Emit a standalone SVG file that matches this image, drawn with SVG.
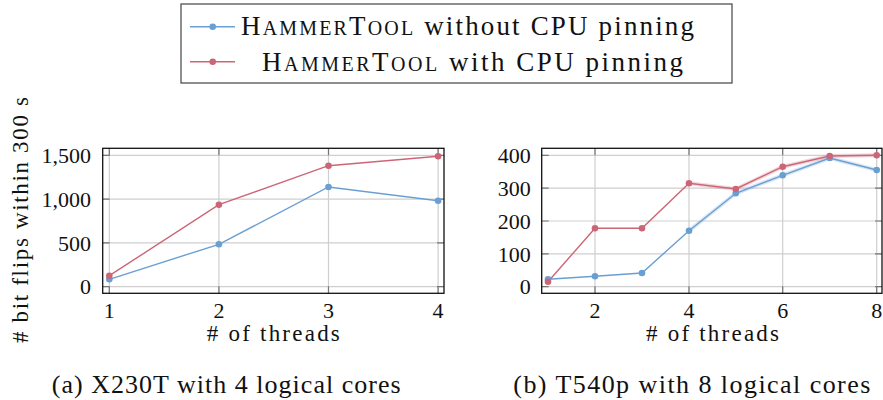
<svg xmlns="http://www.w3.org/2000/svg" width="883" height="400" viewBox="0 0 883 400">
<style>
text{fill:#111;font-family:"Liberation Serif","Times New Roman",serif}
.tick{font-size:22px}
.lbl{font-size:23px}
.cap{font-size:26px}
.leg{font-size:27px}
.sc{font-size:20px}
.grid{stroke:#cfcfcf;stroke-width:1.2;fill:none}
.tk{stroke:#777;stroke-width:1.2;fill:none}
.box{stroke:#111;stroke-width:1.3;fill:none}
.blue{stroke:#6a9fd4;stroke-width:1.4;fill:none}
.red{stroke:#cc6677;stroke-width:1.4;fill:none}
.bband{stroke:#6a9fd4;stroke-opacity:0.25;stroke-width:4;fill:none;stroke-linejoin:round}
.rband{stroke:#cc6677;stroke-opacity:0.25;stroke-width:4;fill:none;stroke-linejoin:round}
.bm{fill:#6a9fd4}
.rm{fill:#cc6677}
</style>
<defs>
<circle id="dot" r="3.3"/>
</defs>

<g id="legend">
<rect x="181" y="4" width="551" height="79" fill="#fff" stroke="#444" stroke-width="1.2"/>
<line x1="190" y1="26.7" x2="235" y2="26.7" class="blue"/>
<use href="#dot" x="212.7" y="26.7" class="bm"/>
<text class="leg" x="241" y="35" textLength="453" lengthAdjust="spacing">H<tspan class="sc">AMMER</tspan>T<tspan class="sc">OOL</tspan> without CPU pinning</text>
<line x1="190" y1="61.7" x2="235" y2="61.7" class="red"/>
<use href="#dot" x="212.7" y="61.7" class="rm"/>
<text class="leg" x="262" y="71" textLength="421" lengthAdjust="spacing">H<tspan class="sc">AMMER</tspan>T<tspan class="sc">OOL</tspan> with CPU pinning</text>
</g>

<g id="plot-a">
<g id="grid-a">
<path class="grid" d="M109.3 148.3V293.3M218.9 148.3V293.3M328.5 148.3V293.3M438.1 148.3V293.3M102.7 155.3H444M102.7 199.1H444M102.7 242.9H444M102.7 286.7H444"/>
<path class="tk" d="M102.7 155.3h7M102.7 199.1h7M102.7 242.9h7M102.7 286.7h7M444 155.3h-7M444 199.1h-7M444 242.9h-7M444 286.7h-7M109.3 293.3v-7M218.9 293.3v-7M328.5 293.3v-7M438.1 293.3v-7M109.3 148.3v7M218.9 148.3v7M328.5 148.3v7M438.1 148.3v7"/>
</g>
<g id="series-a">
<polyline class="blue" points="109.3,279.3 218.9,244.3 328.5,187 438.1,200.7"/>
<polyline class="red" points="109.3,275.7 218.9,204.7 328.5,165.7 438.1,156.3"/>
<use href="#dot" x="109.3" y="279.3" class="bm"/>
<use href="#dot" x="218.9" y="244.3" class="bm"/>
<use href="#dot" x="328.5" y="187" class="bm"/>
<use href="#dot" x="438.1" y="200.7" class="bm"/>
<use href="#dot" x="109.3" y="275.7" class="rm"/>
<use href="#dot" x="218.9" y="204.7" class="rm"/>
<use href="#dot" x="328.5" y="165.7" class="rm"/>
<use href="#dot" x="438.1" y="156.3" class="rm"/>
</g>
<rect class="box" x="102.7" y="148.3" width="341.3" height="145"/>
<g class="tick" text-anchor="end">
<text x="91" y="163">1,500</text>
<text x="91" y="206.8">1,000</text>
<text x="91" y="250.6">500</text>
<text x="91" y="294.4">0</text>
</g>
<g class="tick" text-anchor="middle">
<text x="109.3" y="318">1</text>
<text x="218.9" y="318">2</text>
<text x="328.5" y="318">3</text>
<text x="438.1" y="318">4</text>
</g>
<text class="lbl" x="273.3" y="341" text-anchor="middle" textLength="133" lengthAdjust="spacing"># of threads</text>
<text class="lbl" transform="translate(28 220) rotate(-90)" text-anchor="middle" textLength="246" lengthAdjust="spacing"># bit flips within 300 s</text>
<text class="cap" x="51.7" y="393" textLength="349" lengthAdjust="spacing">(a) X230T with 4 logical cores</text>
</g>

<g id="plot-b">
<g id="grid-b">
<path class="grid" d="M595 148.3V293.3M689 148.3V293.3M782.7 148.3V293.3M876.7 148.3V293.3M541.7 155.3H882M541.7 188.15H882M541.7 221H882M541.7 253.85H882M541.7 286.7H882"/>
<path class="tk" d="M541.7 155.3h7M541.7 188.15h7M541.7 221h7M541.7 253.85h7M541.7 286.7h7M882 155.3h-7M882 188.15h-7M882 221h-7M882 253.85h-7M882 286.7h-7M595 293.3v-7M689 293.3v-7M782.7 293.3v-7M876.7 293.3v-7M595 148.3v7M689 148.3v7M782.7 148.3v7M876.7 148.3v7"/>
</g>
<g id="series-b">
<polyline class="bband" points="689,230.7 735.8,193.3 782.7,175.3 829.7,158 876.7,170"/>
<polyline class="rband" points="689,183.3 735.8,189 782.7,166.7 829.7,156 876.7,155.3"/>
<polyline class="blue" points="548,279.3 595,276.3 642,273 689,230.7 735.8,193.3 782.7,175.3 829.7,158 876.7,170"/>
<polyline class="red" points="548,281.7 595,228.3 642,228.3 689,183.3 735.8,189 782.7,166.7 829.7,156 876.7,155.3"/>
<use href="#dot" x="548" y="279.3" class="bm"/>
<use href="#dot" x="595" y="276.3" class="bm"/>
<use href="#dot" x="642" y="273" class="bm"/>
<use href="#dot" x="689" y="230.7" class="bm"/>
<use href="#dot" x="735.8" y="193.3" class="bm"/>
<use href="#dot" x="782.7" y="175.3" class="bm"/>
<use href="#dot" x="829.7" y="158" class="bm"/>
<use href="#dot" x="876.7" y="170" class="bm"/>
<use href="#dot" x="548" y="281.7" class="rm"/>
<use href="#dot" x="595" y="228.3" class="rm"/>
<use href="#dot" x="642" y="228.3" class="rm"/>
<use href="#dot" x="689" y="183.3" class="rm"/>
<use href="#dot" x="735.8" y="189" class="rm"/>
<use href="#dot" x="782.7" y="166.7" class="rm"/>
<use href="#dot" x="829.7" y="156" class="rm"/>
<use href="#dot" x="876.7" y="155.3" class="rm"/>
</g>
<rect class="box" x="541.7" y="148.3" width="340.3" height="145"/>
<g class="tick" text-anchor="end">
<text x="530.7" y="163">400</text>
<text x="530.7" y="195.8">300</text>
<text x="530.7" y="228.7">200</text>
<text x="530.7" y="261.5">100</text>
<text x="530.7" y="294.4">0</text>
</g>
<g class="tick" text-anchor="middle">
<text x="595" y="318">2</text>
<text x="689" y="318">4</text>
<text x="782.7" y="318">6</text>
<text x="876.7" y="318">8</text>
</g>
<text class="lbl" x="712.5" y="341" text-anchor="middle" textLength="133" lengthAdjust="spacing"># of threads</text>
<text class="cap" x="513.3" y="393" textLength="357" lengthAdjust="spacing">(b) T540p with 8 logical cores</text>
</g>
</svg>
